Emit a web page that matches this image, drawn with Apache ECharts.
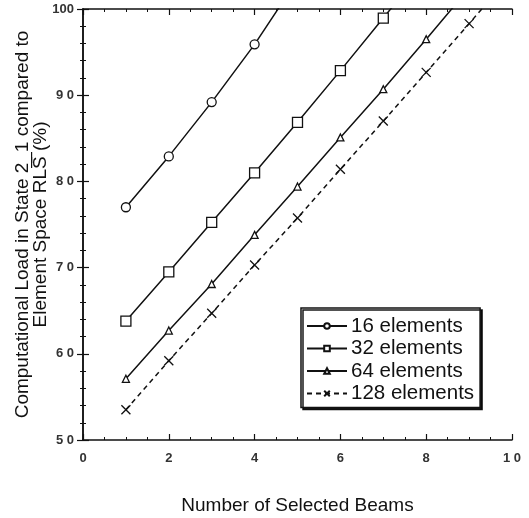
<!DOCTYPE html>
<html><head><meta charset="utf-8">
<script src="https://cdn.jsdelivr.net/npm/echarts@6/dist/echarts.min.js"></script>
<style>html,body{margin:0;padding:0;background:#fff}#c{width:529px;height:518px}</style>
</head><body><div id="c"></div>
<script>
const beams = [1, 2, 3, 4, 5, 6, 7, 8, 9, 10];
const load16 = [77.0, 82.9, 89.2, 95.9, 103.4];
const load32 = [63.8, 69.5, 75.25, 81.0, 86.85, 92.85, 98.95, 105.1];
const load64 = [57.1, 62.7, 68.1, 73.8, 79.4, 85.1, 90.7, 96.5, 102.4];
const load128 = [53.5, 59.2, 64.7, 70.3, 75.75, 81.4, 87.0, 92.65, 98.3, 104.0];
const seriesNames = ['16 elements', '32 elements', '64 elements', '128 elements'];
const xTickLabels = ['0', '2', '4', '6', '8', '1 0'];
const yTickLabels = ['5 0', '6 0', '7 0', '8 0', '9 0', '100'];
const xTitle = 'Number of Selected Beams';
const yTitle = 'Computational Load in State 2_1 compared to\nElement Space RLS\u0305 (%)';

const pairs = arr => arr.map((v, i) => [beams[i], v]);
const font = '"Liberation Sans", Arial, Helvetica, sans-serif';
const black = '#111';
const xMark = 'path://M0,0L10,10M10,0L0,10';

const chart = echarts.init(document.getElementById('c'), null, {renderer: 'canvas'});
const baseSeries = (name, data, symbol, size, dashed) => ({
  name, type: 'line', data: pairs(data), clip: true,
  symbol, symbolSize: size, showSymbol: true,
  lineStyle: {color: black, width: 1.5, type: dashed ? [5, 4] : 'solid'},
  itemStyle: {color: '#fff', borderColor: black, borderWidth: 1.3},
  emphasis: {disabled: true}, animation: false
});
const mkAxis = (extra, split) => Object.assign({
  axisLine: {show: true, lineStyle: {color: black, width: 1.5}},
  axisTick: {show: true, inside: true, length: 6, lineStyle: {color: black, width: 1.2}},
  minorTick: {show: true, splitNumber: split, length: 3, lineStyle: {color: black, width: 1}},
  splitLine: {show: false}
}, extra);
chart.setOption({
  backgroundColor: '#fff',
  animation: false,
  grid: {left: 83, top: 9, width: 429, height: 431, outerBoundsMode: 'none', containLabel: false},
  legend: {
    orient: 'vertical', left: 301, top: 308,
    padding: [7, 6, 3, 5], itemGap: 0.5, itemWidth: 40, itemHeight: 7,
    backgroundColor: '#fff', borderColor: black, borderWidth: 1.5,
    shadowColor: 'rgba(0,0,0,0.9)', shadowBlur: 0, shadowOffsetX: 2, shadowOffsetY: 2,
    textStyle: {fontFamily: font, fontSize: 20.5, color: black, lineHeight: 22, padding: [0, 0, 0, -1]},
    data: seriesNames
  },
  xAxis: [
    mkAxis({type: 'value', min: 0, max: 10, interval: 2, position: 'bottom',
      name: xTitle, nameLocation: 'middle', nameGap: 56, nameMoveOverlap: false,
      nameTextStyle: {fontFamily: font, fontSize: 19, color: black},
      axisLabel: {margin: 12, fontFamily: font, fontSize: 13, fontWeight: 'bold', color: '#333',
        formatter: v => xTickLabels[Math.round(v / 2)]}}, 4),
    mkAxis({type: 'value', min: 0, max: 10, interval: 2, position: 'top',
      axisLabel: {show: false}}, 4)
  ],
  yAxis: [
    mkAxis({type: 'value', min: 50, max: 100, interval: 10, position: 'left',
      name: yTitle, nameLocation: 'middle', nameGap: 33, nameRotate: 90, nameMoveOverlap: false,
      nameTextStyle: {fontFamily: font, fontSize: 19, color: black, lineHeight: 18, align: 'center'},
      axisLabel: {margin: 9, fontFamily: font, fontSize: 13, fontWeight: 'bold', color: '#333',
        formatter: v => yTickLabels[Math.round((v - 50) / 10)]}}, 5),
    mkAxis({type: 'value', min: 50, max: 100, interval: 10, position: 'right',
      axisLabel: {show: false}}, 5)
  ],
  series: [
    baseSeries(seriesNames[0], load16, 'circle', 9, false),
    baseSeries(seriesNames[1], load32, 'rect', 10, false),
    baseSeries(seriesNames[2], load64, 'triangle', 7, false),
    baseSeries(seriesNames[3], load128, xMark, 9, true)
  ]
});
</script></body></html>
